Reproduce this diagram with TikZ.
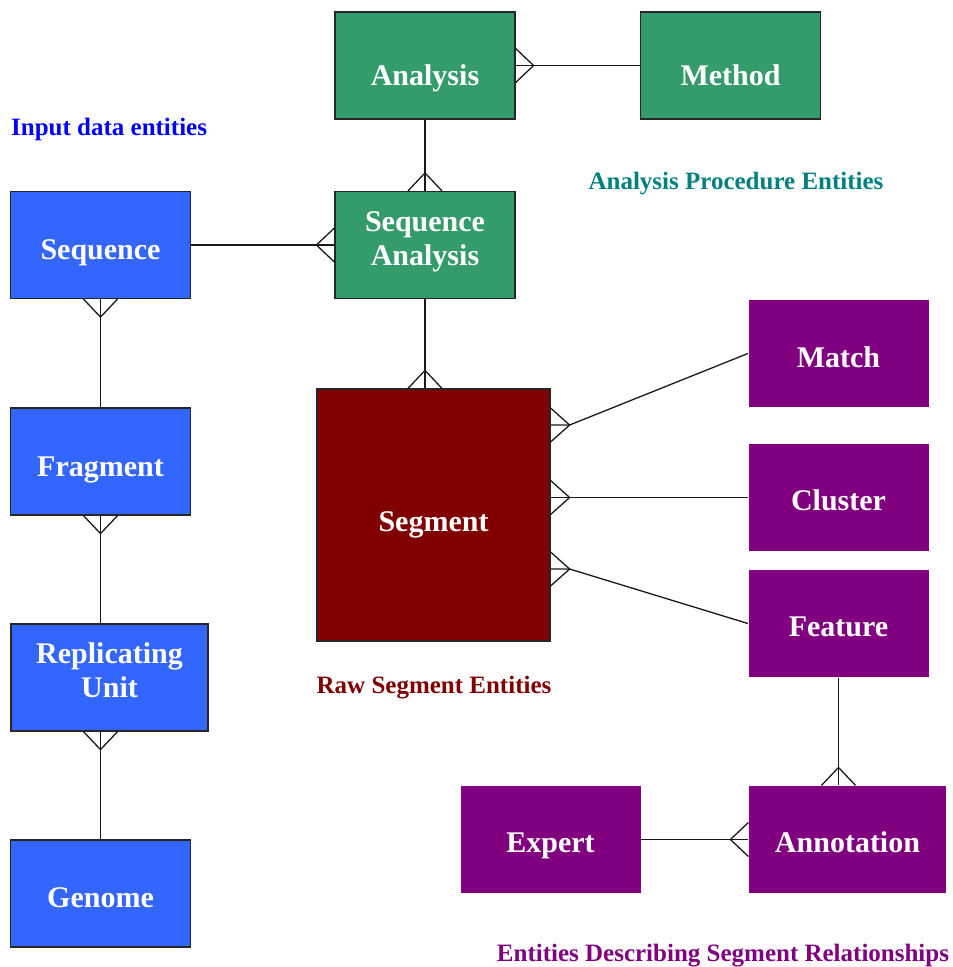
\documentclass[tikz,border=0pt]{standalone}
\usepackage{fontspec}
\setmainfont{Liberation Serif}
\usetikzlibrary{calc}
\definecolor{procgreen}{RGB}{52,155,107}
\definecolor{inblue}{RGB}{51,102,255}
\definecolor{segred}{RGB}{128,0,0}
\definecolor{relpurple}{RGB}{128,0,128}
\definecolor{procteal}{RGB}{0,128,128}
\begin{document}
\begin{tikzpicture}[x=1pt,y=-1pt,
  ent/.style={rectangle, draw=black!85, line width=1.2pt, text=white,
    font=\fontsize{30}{34.5}\selectfont\bfseries, align=center,
    minimum width=180pt, minimum height=107pt, inner sep=0pt,
    text height=28pt, text depth=0pt},
  relent/.style={ent, draw=none, fill=relpurple},
  grouplabel/.style={font=\fontsize{25}{30}\selectfont\bfseries, inner sep=0pt},
  link/.style={line width=1.3pt, black!90}]
\useasboundingbox (0,0) rectangle (953,967);

% analysis procedure entities
\node[ent, fill=procgreen, text height=39.6pt] (ana) at (425,65.5) {Analysis};
\node[ent, fill=procgreen, text height=39.6pt] (met) at (730.5,65.5) {Method};
\node[ent, fill=procgreen, text height=41.6pt] (sqa) at (425,245) {Sequence\\Analysis};

% input data entities
\node[ent, fill=inblue, text height=28.6pt] (seq) at (100.5,245) {Sequence};
\node[ent, fill=inblue, text height=29pt] (fra) at (100.5,461.5) {Fragment};
\node[ent, fill=inblue, minimum width=197pt, text height=40pt] (rep) at (109.5,677.5) {Replicating\\Unit};
\node[ent, fill=inblue, text height=27pt] (gen) at (100.5,893.5) {Genome};

% raw segment entities
\node[ent, fill=segred, minimum width=233pt, minimum height=252pt, text height=33.4pt] (seg) at (433.5,515) {Segment};

% segment relationship entities
\node[relent] (mat) at (838.5,353.5) {Match};
\node[relent, text height=26pt] (clu) at (838.5,497.5) {Cluster};
\node[relent, text height=26pt] (fea) at (838.5,623.5) {Feature};
\node[relent, minimum width=197pt, text height=25pt] (ann) at (847.5,839.5) {Annotation};
\node[relent, text height=25pt] (exp) at (550.5,839.5) {Expert};

% group labels
\node[grouplabel, text=blue, anchor=west] (lin) at (11,129) {Input data entities};
\node[grouplabel, text=procteal] (lpr) at (736,184) {Analysis Procedure Entities};
\node[grouplabel, text=segred] (lseg) at (434,688) {Raw Segment Entities};
\node[grouplabel, text=relpurple] (lrel) at (723,956) {Entities Describing Segment Relationships};

% relationships (crow's foot on the "many" side)
\draw[link] (ana.east) -- (met.west);
\draw[link] (ana.east) ++(0,-17) -- ++(18,17) -- ++(-18,17);

\draw[link] (ana.south) -- (sqa.north);
\draw[link] (sqa.north) ++(-17,0) -- ++(17,-18) -- ++(17,18);

\draw[link] (seq.east |- sqa.west) -- (sqa.west);
\draw[link] (sqa.west) ++(0,-17) -- ++(-18,17) -- ++(18,17);

\draw[link] (seq.south) -- (fra.north);
\draw[link] (seq.south) ++(-17,0) -- ++(17,18) -- ++(17,-18);

\draw[link] (fra.south) -- (fra.south |- rep.north);
\draw[link] (fra.south) ++(-17,0) -- ++(17,18) -- ++(17,-18);

\draw[link] (gen.north |- rep.south) coordinate (rfoot) -- (gen.north);
\draw[link] (rfoot) ++(-17,0) -- ++(17,18) -- ++(17,-18);

\draw[link] (sqa.south) -- (sqa.south |- seg.north) coordinate (sfoot);
\draw[link] (sfoot) ++(-17,0) -- ++(17,-18) -- ++(17,18);

\coordinate (sm) at ($(seg.east)+(0,-90)$);
\draw[link] (sm) ++(0,-17) -- ++(19,17) coordinate (smt) -- ++(-19,17);
\draw[link] (sm) -- (smt) -- (mat.west);

\coordinate (sc) at (seg.east |- clu.west);
\draw[link] (sc) -- (clu.west);
\draw[link] (sc) ++(0,-17) -- ++(19,17) -- ++(-19,17);

\coordinate (sf) at ($(seg.east)+(0,54)$);
\draw[link] (sf) ++(0,-17) -- ++(19,17) coordinate (sft) -- ++(-19,17);
\draw[link] (sf) -- (sft) -- (fea.west);

\draw[link] (fea.south) -- (fea.south |- ann.north) coordinate (afoot);
\draw[link] (afoot) ++(-17,0) -- ++(17,-18) -- ++(17,18);

\draw[link] (exp.east) -- (ann.west);
\draw[link] (ann.west) ++(0,-17) -- ++(-18,17) -- ++(18,17);
\end{tikzpicture}
\end{document}
